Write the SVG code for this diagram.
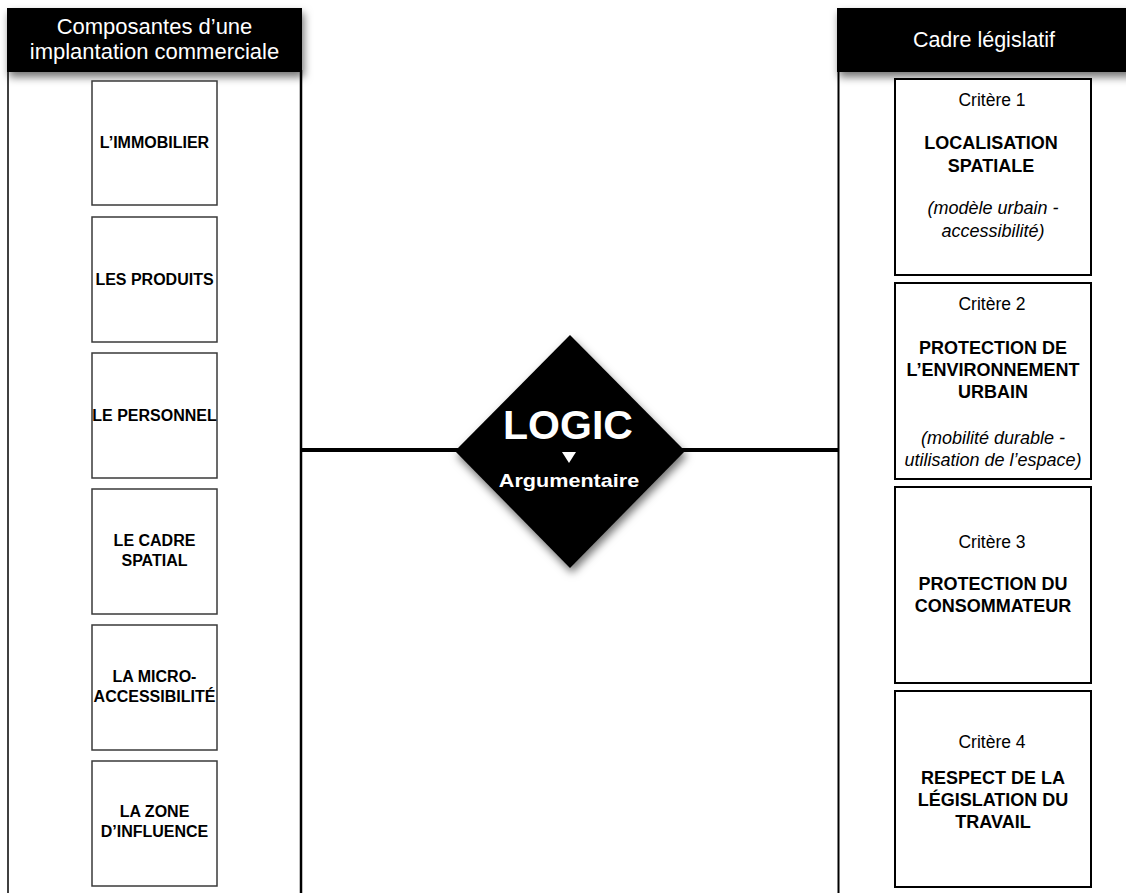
<svg xmlns="http://www.w3.org/2000/svg" width="1126" height="893" viewBox="0 0 1126 893">
  <defs>
    <filter id="shadow" x="-20%" y="-20%" width="150%" height="160%">
      <feDropShadow dx="2" dy="5" stdDeviation="4" flood-color="#000" flood-opacity="0.55"/>
    </filter>
  </defs>
  <style>
    .hdr { fill: #000; }
    .hdrtxt { fill: #fff; font-family: "Liberation Sans", Arial, sans-serif; font-size: 22px; text-anchor: middle; }
    .panel { fill: none; stroke: #000; }
    .lbox { fill: #fff; stroke: #3a3a3a; stroke-width: 1.5; }
    .ltxt { fill: #000; font-family: "Liberation Sans", Arial, sans-serif; font-size: 16px; font-weight: bold; text-anchor: middle; }
    .rbox { fill: #fff; stroke: #000; stroke-width: 2; }
    .crit { fill: #000; font-family: "Liberation Sans", Arial, sans-serif; font-size: 17.5px; text-anchor: middle; }
    .rb { fill: #000; font-family: "Liberation Sans", Arial, sans-serif; font-size: 18px; font-weight: bold; text-anchor: middle; }
    .ri { fill: #000; font-family: "Liberation Sans", Arial, sans-serif; font-size: 18px; font-style: italic; text-anchor: middle; }
    .conn { stroke: #000; stroke-width: 4; fill: none; }
    .wtxt { fill: #fff; font-family: "Liberation Sans", Arial, sans-serif; font-weight: bold; text-anchor: middle; }
  </style>

  <rect width="1126" height="893" fill="#fff"/>

  <!-- panels -->
  <g id="left-panel">
    <line class="panel" x1="8" y1="70" x2="8" y2="893" stroke-width="1.5"/>
    <line class="panel" x1="301" y1="70" x2="301" y2="893" stroke-width="2.5"/>
  </g>
  <g id="right-panel">
    <line class="panel" x1="838.5" y1="70" x2="838.5" y2="893" stroke-width="2"/>
  </g>

  <!-- connectors -->
  <g id="connectors">
    <line class="conn" x1="301" y1="450" x2="462" y2="450"/>
    <line class="conn" x1="678" y1="450" x2="838" y2="450"/>
  </g>

  <!-- headers -->
  <g id="header-left">
    <rect class="hdr" x="7" y="8" width="295" height="64" filter="url(#shadow)"/>
    <text class="hdrtxt" x="154.5" y="34">Composantes d’une</text>
    <text class="hdrtxt" x="154.5" y="59">implantation commerciale</text>
  </g>
  <g id="header-right">
    <rect class="hdr" x="837" y="8" width="295" height="64" filter="url(#shadow)"/>
    <text class="hdrtxt" x="984" y="47" style="font-size:21.5px">Cadre législatif</text>
  </g>

  <!-- left boxes -->
  <g id="immobilier">
    <rect class="lbox" x="92" y="81" width="125" height="124"/>
    <text class="ltxt" x="154.5" y="148">L’IMMOBILIER</text>
  </g>
  <g id="produits">
    <rect class="lbox" x="92" y="217" width="125" height="125"/>
    <text class="ltxt" x="154.5" y="285">LES PRODUITS</text>
  </g>
  <g id="personnel">
    <rect class="lbox" x="92" y="353" width="125" height="125"/>
    <text class="ltxt" x="154.5" y="421">LE PERSONNEL</text>
  </g>
  <g id="cadre-spatial">
    <rect class="lbox" x="92" y="489" width="125" height="125"/>
    <text class="ltxt" x="154.5" y="546">LE CADRE</text>
    <text class="ltxt" x="154.5" y="566">SPATIAL</text>
  </g>
  <g id="micro-accessibilite">
    <rect class="lbox" x="92" y="625" width="125" height="125"/>
    <text class="ltxt" x="154.5" y="682">LA MICRO-</text>
    <text class="ltxt" x="154.5" y="702">ACCESSIBILITÉ</text>
  </g>
  <g id="zone-influence">
    <rect class="lbox" x="92" y="761" width="125" height="125"/>
    <text class="ltxt" x="154.5" y="817">LA ZONE</text>
    <text class="ltxt" x="154.5" y="837">D’INFLUENCE</text>
  </g>

  <!-- center diamond -->
  <g id="logic">
    <polygon points="570,335 685,451 570,568 455,451" fill="#000" filter="url(#shadow)"/>
    <text class="wtxt" x="568" y="439" font-size="41">LOGIC</text>
    <polygon points="562,452 576,452 569,463" fill="#fff"/>
    <text class="wtxt" font-size="18" transform="translate(569,487) scale(1.2,1)" x="0" y="0">Argumentaire</text>
  </g>

  <!-- right boxes -->
  <g id="critere-1">
    <rect class="rbox" x="895" y="79" width="196" height="196"/>
    <text class="crit" x="992" y="106">Critère 1</text>
    <text class="rb" x="991" y="149">LOCALISATION</text>
    <text class="rb" x="991" y="172">SPATIALE</text>
    <text class="ri" x="993" y="214">(modèle urbain -</text>
    <text class="ri" x="993" y="237">accessibilité)</text>
  </g>
  <g id="critere-2">
    <rect class="rbox" x="895" y="283" width="196" height="196"/>
    <text class="crit" x="992" y="310">Critère 2</text>
    <text class="rb" x="993" y="354">PROTECTION DE</text>
    <text class="rb" x="993" y="376">L’ENVIRONNEMENT</text>
    <text class="rb" x="993" y="398">URBAIN</text>
    <text class="ri" x="993" y="444">(mobilité durable -</text>
    <text class="ri" x="993" y="466">utilisation de l’espace)</text>
  </g>
  <g id="critere-3">
    <rect class="rbox" x="895" y="487" width="196" height="196"/>
    <text class="crit" x="992" y="548">Critère 3</text>
    <text class="rb" x="993" y="590">PROTECTION DU</text>
    <text class="rb" x="993" y="612">CONSOMMATEUR</text>
  </g>
  <g id="critere-4">
    <rect class="rbox" x="895" y="691" width="196" height="196"/>
    <text class="crit" x="992" y="748">Critère 4</text>
    <text class="rb" x="993" y="784">RESPECT DE LA</text>
    <text class="rb" x="993" y="806">LÉGISLATION DU</text>
    <text class="rb" x="993" y="828">TRAVAIL</text>
  </g>
</svg>
